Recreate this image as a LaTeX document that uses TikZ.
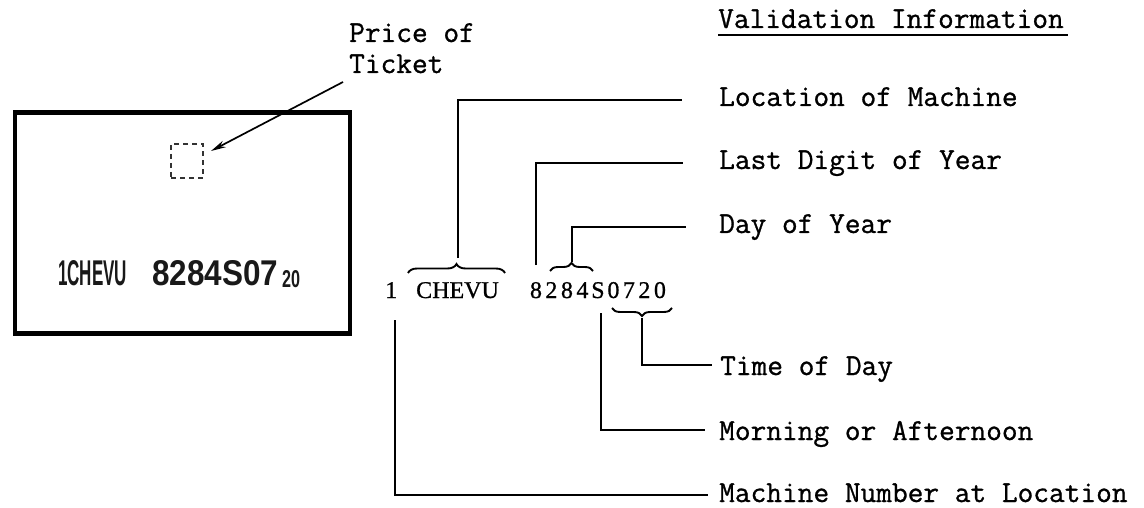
\documentclass[tikz,border=0pt]{standalone}
\usepackage{fontspec}
\usetikzlibrary{decorations.pathreplacing,arrows.meta}
\newfontfamily\codefont[FakeBold=0.8]{Liberation Serif}
\newfontfamily\stampfont{Liberation Sans}
\newfontfamily\twfont[FakeBold=0.9]{Latin Modern Mono}
\newcommand\dg[1]{\makebox[15.5pt][c]{#1}}
\begin{document}
\begin{tikzpicture}[x=1pt,y=-1pt,
  lab/.style={font=\fontsize{30.5}{31}\selectfont\twfont, anchor=base west, inner sep=0pt},
  code/.style={font=\fontsize{24}{26}\selectfont\codefont, anchor=base west, inner sep=0pt},
  stamp/.style={font=\stampfont\bfseries, anchor=base west, inner sep=0pt, text=black!90},
  conn/.style={line width=1.9pt, line join=miter},
  brc/.style={decorate, decoration={brace, amplitude=#1}, line width=1.9pt},
]
\useasboundingbox (0,0) rectangle (1144,508);

% ticket
\node[draw, line width=4.5pt, minimum width=335pt, minimum height=220.5pt, anchor=north west, inner sep=0pt] (ticket) at (12.5,110.5) {};
\node[draw, dashed, dash pattern=on 5pt off 4pt, line width=2pt, draw=black!80, minimum width=32pt, minimum height=34pt, anchor=north west, inner sep=0pt] (price) at (170,143) {};
\node[stamp] (st1) at (58,285) {\resizebox{69pt}{25pt}{1CHEVU}};
\node[stamp] (st2) at (152,285) {\resizebox{126pt}{25pt}{8284S07}};
\node[stamp] (st3) at (282,287) {\resizebox{18pt}{17pt}{20}};

% price label
\node[lab] (pr1) at (349,42) {Price of};
\node[lab] (pr2) at (349,73) {Ticket};
\coordinate (arrS) at (343,82);
\coordinate (arrE) at (211,151);
\draw[line width=1.7pt, -{Stealth[length=15pt,width=7pt]}] (arrS) -- (arrE);

% code string
\node[code] (c1) at (385,298) {1};
\node[code] (c2) at (416,298) {CHEVU};
\node[code] (c3) at (528,298) {\dg{8}\dg{2}\dg{8}\dg{4}\dg{S}\dg{0}\dg{7}\dg{2}\dg{0}};

% braces
\draw[brc=9pt] (408,273) -- (505,273);
\draw[brc=8pt] (550,271) -- (593,271);
\draw[brc=8pt] (672,308) -- (612,308);

% labels
\node[lab] (vi) at (718,28) {Validation Information};
\draw[line width=1.6pt] (vi.base west) ++(0,7) -- ++(350,0);
\node[lab] (l1) at (719,106) {Location of Machine};
\node[lab] (l2) at (719,169) {Last Digit of Year};
\node[lab] (l3) at (719,233) {Day of Year};
\node[lab] (l4) at (720,375) {Time of Day};
\node[lab] (l5) at (719,440) {Morning or Afternoon};
\node[lab] (l6) at (719,502) {Machine Number at Location};

% connectors
\coordinate (t1) at (458,258);  \coordinate (e1) at (682,100);
\coordinate (t2) at (536,265);  \coordinate (e2) at (683,163);
\coordinate (t3) at (572,262);  \coordinate (e3) at (686,227);
\coordinate (t4) at (642,318);  \coordinate (e4) at (712,365);
\coordinate (t5) at (601,313);  \coordinate (e5) at (705,430);
\coordinate (t6) at (395,320);  \coordinate (e6) at (708,495);
\draw[conn] (t1) |- (e1);
\draw[conn] (t2) |- (e2);
\draw[conn] (t3) |- (e3);
\draw[conn] (t4) |- (e4);
\draw[conn] (t5) |- (e5);
\draw[conn] (t6) |- (e6);
\end{tikzpicture}
\end{document}
